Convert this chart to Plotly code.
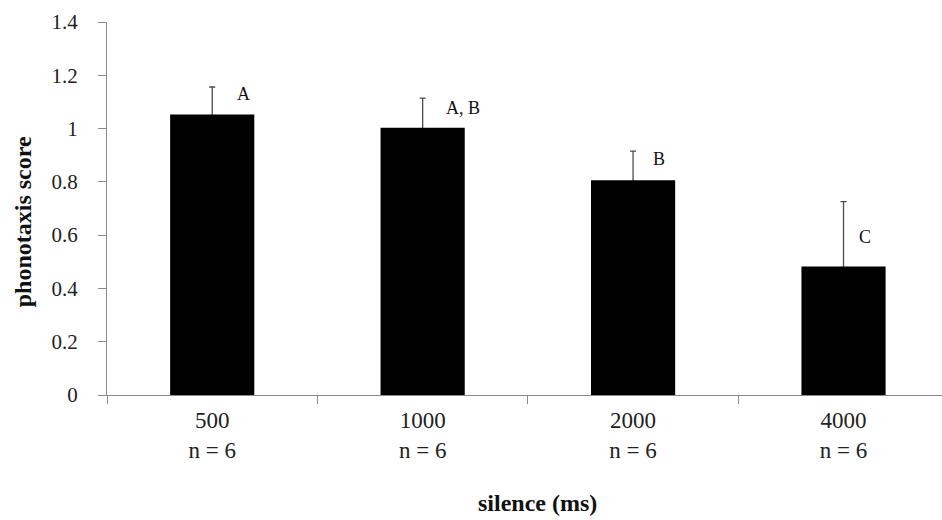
import plotly.graph_objects as go

# Phonotaxis score by silence interval
silence_ms = ["500", "1000", "2000", "4000"]
n_per_group = [6, 6, 6, 6]
mean_score = [1.053, 1.003, 0.806, 0.482]
sem_score = [0.103, 0.111, 0.109, 0.244]
group_letters = ["A", "A, B", "B", "C"]

tick_text = [f"{s}<br>n = {n}" for s, n in zip(silence_ms, n_per_group)]

SERIF = "Liberation Serif"
fig = go.Figure()

# Error bars sit on an invisible trace underneath the bars so only the upper whisker shows
fig.add_trace(go.Bar(
    x=tick_text, y=mean_score, width=0.4,
    marker=dict(color="rgba(0,0,0,0)", line=dict(width=0)),
    error_y=dict(type="data", symmetric=False, array=sem_score,
                 arrayminus=mean_score, color="#4a4a4a", thickness=1.3, width=3),
    hoverinfo="skip", showlegend=False,
))
fig.add_trace(go.Bar(
    x=tick_text, y=mean_score, width=0.4,
    marker=dict(color="black", line=dict(width=0)),
    showlegend=False,
))

# Significance letters beside each whisker
letter_dx = [0.15, 0.193, 0.124, 0.102]
letter_y = [1.129, 1.079, 0.885, 0.592]
for i, lab in enumerate(group_letters):
    fig.add_annotation(x=i + letter_dx[i], y=letter_y[i], xref="x", yref="y",
                       text=lab, showarrow=False,
                       font=dict(family=SERIF, size=18, color="#111"))

fig.add_annotation(x=0.516, y=-0.29, xref="paper", yref="paper",
                   xanchor="center", yanchor="middle",
                   text="<b>silence (ms)</b>", showarrow=False,
                   font=dict(family=SERIF, size=24, color="#111"))
fig.add_annotation(x=-0.1006, y=0.4657, xref="paper", yref="paper",
                   xanchor="center", yanchor="middle",
                   text="<b>phonotaxis score</b>", showarrow=False, textangle=-90,
                   font=dict(family=SERIF, size=24, color="#111"))

fig.update_layout(
    width=942, height=520,
    margin=dict(l=107, r=0, t=22, b=125),
    paper_bgcolor="white", plot_bgcolor="white",
    barmode="overlay",
    font=dict(family=SERIF),
    xaxis=dict(
        type="category", range=[-0.5, 3.468],
        showline=True, linecolor="#8a8a8a", linewidth=1.3,
        ticks="outside", tickson="boundaries", ticklen=8, tickcolor="#8a8a8a",
        ticklabelstandoff=4,
        tickfont=dict(family=SERIF, size=23, color="#222"),
        showgrid=False, zeroline=False,
    ),
    yaxis=dict(
        range=[0, 1.4], tickvals=[0, 0.2, 0.4, 0.6, 0.8, 1, 1.2, 1.4],
        ticktext=["0", "0.2", "0.4", "0.6", "0.8", "1", "1.2", "1.4"],
        showline=True, linecolor="#8a8a8a", linewidth=1.3,
        ticks="outside", ticklen=8, tickcolor="#8a8a8a",
        ticklabelstandoff=16,
        tickfont=dict(family=SERIF, size=21, color="#222"),
        showgrid=False, zeroline=False,
    ),
)

fig.write_html("out.html")
